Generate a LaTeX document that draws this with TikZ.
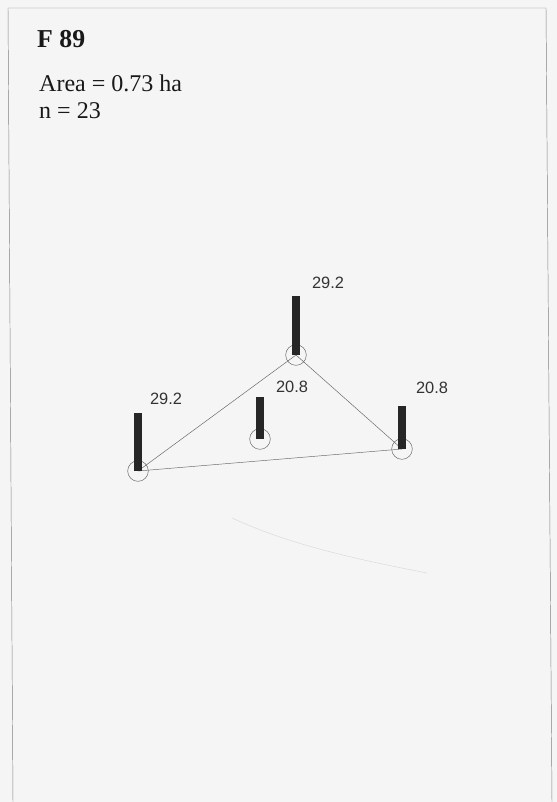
\documentclass[tikz,border=0pt]{standalone}
\usepackage{fontspec}
\setmainfont{Liberation Serif}
\setsansfont{Liberation Sans}
\usetikzlibrary{positioning}

\begin{document}
\begin{tikzpicture}[
        x=0.03cm, y=-0.03cm,
        plot/.style={circle, draw=black!60, thin, minimum size=0.62cm, inner sep=0pt},
        bar/.style={line width=6.8pt, draw=black!85},
        val/.style={font=\sffamily\fontsize{14}{16}\selectfont, text=black!80, inner sep=1pt},
        link/.style={draw=black!60, thin},
        head/.style={anchor=base west, inner sep=0pt, text=black!90}
    ]

    % Background and frame
    \fill[black!4] (0,0) rectangle (557,802);
    \useasboundingbox (0,0) rectangle (557,802);
    \draw[black!50, thin] (13,802) -- (8,8) -- (546,8) -- (552,802);

    % Header
    \node[head, font=\bfseries\fontsize{22}{26}\selectfont] (title) at (37,47) {F 89};
    \node[head, font=\fontsize{20.5}{24}\selectfont] (area) at (39,91) {Area = 0.73 ha};
    \node[head, font=\fontsize{20.5}{24}\selectfont] (count) at (39,118) {n = 23};

    % Plot positions
    \node[plot] (left) at (138,471) {};
    \node[plot] (top) at (296,355) {};
    \node[plot] (mid) at (260,439) {};
    \node[plot] (right) at (402,449) {};

    % Links
    \draw[link] (left.center) -- (top.center);
    \draw[link] (top.center) -- (right.center);
    \draw[link] (left.center) -- (right.center);

    % Bars
    \draw[bar] (left.center) -- ++(0,-58);
    \draw[bar] (top.center) -- ++(0,-59);
    \draw[bar] (mid.center) -- ++(0,-42);
    \draw[bar] (right.center) -- ++(0,-43);

    % Values
    \node[val] (v_left) at (166,399) {29.2};
    \node[val] (v_top) at (328,283) {29.2};
    \node[val] (v_mid) at (292,387) {20.8};
    \node[val] (v_right) at (432,388) {20.8};

    % Faint mark
    \draw[black!15, thin] (232,518) .. controls (290,545) and (360,560) .. (427,573);

\end{tikzpicture}
\end{document}
